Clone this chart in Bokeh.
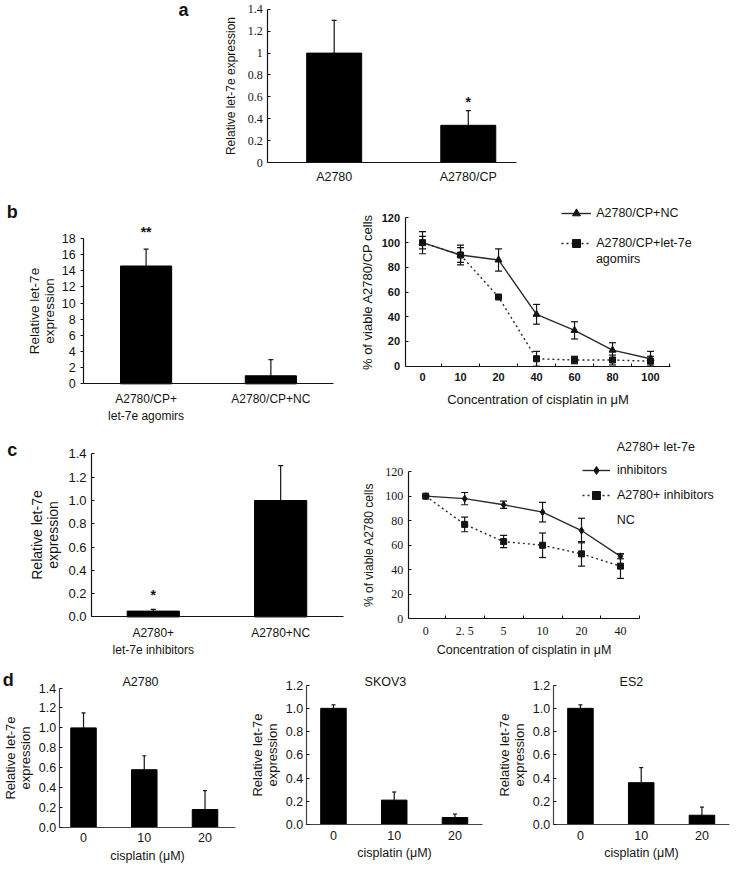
from bokeh.plotting import figure
from bokeh.layouts import row, column
from bokeh.models import (ColumnDataSource, Range1d, FixedTicker, Whisker, TeeHead,
                          Legend, LegendItem, Label)
from bokeh.core.properties import value
from bokeh.embed import file_html
from bokeh.resources import INLINE

# ---------------- data ----------------
a_groups = ["A2780", "A2780/CP"]
a_values = [1.0, 0.34]
a_errors = [0.30, 0.135]
a_marks = ["", "*"]
a_yticks = [0, 0.2, 0.4, 0.6, 0.8, 1.0, 1.2, 1.4]
a_ytick_labels = ["0", "0.2", "0.4", "0.6", "0.8", "1", "1.2", "1.4"]

b_groups = ["A2780/CP+\nlet-7e agomirs", "A2780/CP+NC"]
b_values = [14.6, 1.0]
b_errors = [2.1, 2.0]
b_marks = ["**", ""]
b_yticks = [0, 2, 4, 6, 8, 10, 12, 14, 16, 18]

b_conc = ["0", "10", "20", "40", "60", "80", "100"]
b_nc = [100, 90, 86, 42, 29, 13, 6]
b_nc_err = [9, 8, 9, 8, 7, 6, 6]
b_ago = [100, 90, 56, 6, 5, 5, 4]
b_ago_err = [5, 6, 1, 6, 3, 4, 4]
b_legend = ["A2780/CP+NC", "A2780/CP+let-7e", "agomirs"]

pct_yticks = [0, 20, 40, 60, 80, 100, 120]

c_groups = ["A2780+\nlet-7e inhibitors", "A2780+NC"]
c_values = [0.05, 1.0]
c_errors = [0.015, 0.30]
c_marks = ["*", ""]
rel_yticks = [0.0, 0.2, 0.4, 0.6, 0.8, 1.0, 1.2, 1.4]
rel_ytick_labels = ["0.0", "0.2", "0.4", "0.6", "0.8", "1.0", "1.2", "1.4"]

c_conc = ["0", "2. 5", "5", "10", "20", "40"]
c_inh = [100, 98, 93, 87, 72, 51]
c_inh_err = [0, 5, 3, 8, 10, 2]
c_nc = [100, 77, 63, 60, 53, 43]
c_nc_err = [0, 6, 5, 10, 10, 10]
c_legend_head = "A2780+ let-7e"
c_legend = ["inhibitors", "A2780+ inhibitors"]
c_legend_tail = "NC"

d_doses = ["0", "10", "20"]
d_titles = ["A2780", "SKOV3", "ES2"]
d_a2780 = [1.0, 0.58, 0.18]
d_a2780_err = [0.15, 0.14, 0.19]
d_skov3 = [1.0, 0.21, 0.06]
d_skov3_err = [0.03, 0.07, 0.03]
d_es2 = [1.0, 0.36, 0.08]
d_es2_err = [0.03, 0.13, 0.07]

# ---------------- helpers ----------------
SANS = "Liberation Sans"
SERIF = "Liberation Serif"
INK = "#141414"
SX = 736 / 752
SY = 864 / 880


def make_panel(fig_box, frame_box, xr, yr):
    """Figure whose drawing area covers the whole canvas; the axes are pinned
    (fixed_location) so that the plot region sits where the reference has it."""
    rx0, ry0, rx1, ry1 = fig_box
    fx0, fy0, fx1, fy1 = frame_box
    W = round(rx1 * SX) - round(rx0 * SX)
    H = round(ry1 * SY) - round(ry0 * SY)
    L = (fx0 - rx0) * SX
    R = (fx1 - rx0) * SX
    T = (fy0 - ry0) * SY
    B = (fy1 - ry0) * SY
    kx = (xr[1] - xr[0]) / (R - L)
    ky = (yr[1] - yr[0]) / (B - T)
    p = figure(width=W, height=H,
               x_range=Range1d(xr[0] - L * kx, xr[1] + (W - R) * kx),
               y_range=Range1d(yr[0] - (H - B) * ky, yr[1] + T * ky),
               min_border_left=0, min_border_right=0,
               min_border_top=0, min_border_bottom=0,
               toolbar_location=None, output_backend="svg")
    p.outline_line_color = None
    p.xgrid.visible = False
    p.ygrid.visible = False
    p.background_fill_color = "white"
    p.border_fill_color = "white"
    p.xaxis.fixed_location = yr[0]
    p.yaxis.fixed_location = xr[0]
    p.xaxis.bounds = (xr[0], xr[1])
    p.yaxis.bounds = (yr[0], yr[1])

    def scr(rx, ry):
        return (rx - rx0) * SX, H - (ry - ry0) * SY
    return p, scr


def style_axes(p, tick_font=SANS, tick_size="12px", tick_style="normal",
               label_size="13px"):
    for ax in list(p.xaxis) + list(p.yaxis):
        ax.axis_line_color = INK
        ax.axis_line_width = 1.2
        ax.major_tick_line_color = INK
        ax.minor_tick_line_color = INK
        ax.major_tick_in = 0
        ax.major_tick_out = 0
        ax.minor_tick_in = 0
        ax.minor_tick_out = 0
        ax.major_label_text_font = tick_font
        ax.major_label_text_font_size = tick_size
        ax.major_label_text_font_style = tick_style
        ax.major_label_text_color = INK
        ax.axis_label_text_font = SANS
        ax.axis_label_text_font_style = "normal"
        ax.axis_label_text_font_size = label_size
        ax.axis_label_text_color = INK
        ax.axis_label_text_line_height = 1.0
    for ax in p.yaxis:
        ax.major_tick_in = 3
        ax.major_tick_line_width = 1


def set_ticks(axis, ticks, labels, minor=None):
    axis.ticker = FixedTicker(ticks=list(ticks), minor_ticks=list(minor or []))
    axis.major_label_overrides = {t: l for t, l in zip(ticks, labels)}


def add_bars(p, values, errors, width, marks=None, mark_size="14px", mark_offset=-10,
             head=5):
    xs = list(range(len(values)))
    src = ColumnDataSource(dict(x=xs, top=values,
                                upper=[v + e for v, e in zip(values, errors)],
                                mark=marks if marks else [""] * len(values)))
    p.vbar(x="x", top="top", width=width, source=src,
           fill_color="black", line_color="black")
    p.add_layout(Whisker(source=src, base="x", lower="top", upper="upper",
                         line_color=INK, line_width=1.2, lower_head=None,
                         upper_head=TeeHead(size=head, line_color=INK, line_width=1.2)))
    if marks:
        p.text(x="x", y="upper", text="mark", source=src, text_align="center",
               text_baseline="middle", y_offset=mark_offset, text_color=INK,
               text_font=value(SANS), text_font_size=mark_size, text_font_style="bold")


def add_series(p, values, errors, dash, marker, size):
    xs = list(range(len(values)))
    src = ColumnDataSource(dict(x=xs, y=values,
                                lo=[v - e for v, e in zip(values, errors)],
                                hi=[v + e for v, e in zip(values, errors)]))
    p.add_layout(Whisker(source=src, base="x", lower="lo", upper="hi",
                         line_color=INK, line_width=1.2,
                         upper_head=TeeHead(size=7, line_color=INK, line_width=1.2),
                         lower_head=TeeHead(size=7, line_color=INK, line_width=1.2)))
    l = p.line("x", "y", source=src, line_color="#2a2a2a", line_width=1.4, line_dash=dash)
    s = p.scatter("x", "y", source=src, marker=marker, size=size,
                  fill_color=INK, line_color=INK)
    return l, s


def add_text(p, scr, rx, ry, text, size, style="normal", align="center", font=SANS):
    x, y = scr(rx, ry)
    p.add_layout(Label(x=x, y=y, x_units="screen", y_units="screen", text=text,
                       text_font=font, text_font_size=size, text_font_style=style,
                       text_align=align, text_baseline="middle", text_color=INK))


def make_legend(p, scr, rx, ry, items, glyph_width, standoff, spacing):
    x, y = scr(rx, ry)
    leg = Legend(items=items, location=(x, y), orientation="vertical",
                 border_line_color=None, background_fill_alpha=0,
                 padding=0, margin=0, spacing=spacing, glyph_width=glyph_width,
                 glyph_height=20, label_height=20, label_standoff=standoff,
                 label_text_font=SANS, label_text_font_size="12.5px",
                 label_text_color=INK)
    p.add_layout(leg)


# ---------------- panel a ----------------
pa, sa = make_panel((0, 0, 752, 190), (273, 9, 527, 165), (-0.496, 1.358), (0, 1.4))
add_bars(pa, a_values, a_errors, 0.41, a_marks, "14px", -9)
style_axes(pa, tick_font=SERIF, tick_size="12px")
set_ticks(pa.yaxis[0], a_yticks, a_ytick_labels)
set_ticks(pa.xaxis[0], list(range(len(a_groups))), a_groups)
pa.xaxis.major_label_text_font = SANS
pa.xaxis.major_label_text_font_size = "12.5px"
pa.xaxis.major_label_standoff = 7
pa.yaxis.axis_label = "Relative let-7e expression"
pa.yaxis.axis_label_text_font_size = "12px"
pa.yaxis.axis_label_standoff = 7
add_text(pa, sa, 187, 10, "a", "18px", "bold")

# ---------------- panel b (left) ----------------
pb1, sb1 = make_panel((0, 190, 345, 432), (85, 242, 340, 390), (-0.5, 1.5), (0, 18))
add_bars(pb1, b_values, b_errors, 0.41, b_marks, "14px", -17)
style_axes(pb1, tick_size="12.5px")
set_ticks(pb1.yaxis[0], b_yticks, [str(t) for t in b_yticks])
pb1.yaxis.major_tick_in = 0
pb1.yaxis.major_tick_out = 3
set_ticks(pb1.xaxis[0], list(range(len(b_groups))), b_groups)
pb1.xaxis.major_label_text_font_size = "12px"
pb1.xaxis.major_label_standoff = 8
pb1.yaxis.axis_label = "Relative let-7e\nexpression"
pb1.yaxis.axis_label_text_font_size = "13.5px"
pb1.yaxis.axis_label_standoff = 2
add_text(pb1, sb1, 12, 215, "b", "18px", "bold")

# ---------------- panel b (right) ----------------
pb2, sb2 = make_panel((345, 190, 752, 432), (413, 221, 684, 372), (-0.46, 6.52), (0, 120))
lb1, mb1 = add_series(pb2, b_nc, b_nc_err, "solid", "triangle", 7)
lb2, mb2 = add_series(pb2, b_ago, b_ago_err, "2 3", "square", 6)
style_axes(pb2, tick_size="11px", tick_style="bold")
set_ticks(pb2.yaxis[0], pct_yticks, [str(t) for t in pct_yticks])
n_b = len(b_conc)
set_ticks(pb2.xaxis[0], list(range(n_b)), b_conc, [i + 0.5 for i in range(n_b)])
pb2.xaxis.minor_tick_in = 3
pb2.xaxis.major_label_standoff = 7
pb2.xaxis.axis_label = "Concentration of cisplatin in \u03bcM"
pb2.xaxis.axis_label_standoff = 7
pb2.xaxis.axis_label_text_font_size = "13px"
pb2.yaxis.axis_label = "% of viable A2780/CP cells"
pb2.yaxis.axis_label_text_font_size = "13px"
pb2.yaxis.axis_label_standoff = 4
make_legend(pb2, sb2, 573, 257,
            [LegendItem(label=b_legend[0], renderers=[lb1, mb1]),
             LegendItem(label=b_legend[1], renderers=[lb2, mb2])], 30, 5, 10)
add_text(pb2, sb2, 608, 263, b_legend[2], "12.5px", align="left")

# ---------------- panel c (left) ----------------
pc1, sc1 = make_panel((0, 432, 355, 675), (93, 462, 350, 628), (-0.485, 1.49), (0, 1.4))
add_bars(pc1, c_values, c_errors, 0.41, c_marks, "14px", -14)
style_axes(pc1, tick_size="13px")
set_ticks(pc1.yaxis[0], rel_yticks, rel_ytick_labels)
set_ticks(pc1.xaxis[0], list(range(len(c_groups))), c_groups)
pc1.xaxis.major_label_text_font_size = "12px"
pc1.xaxis.major_label_standoff = 9
pc1.yaxis.axis_label = "Relative let-7e\nexpression"
pc1.yaxis.axis_label_text_font_size = "14px"
pc1.yaxis.axis_label_standoff = 4
add_text(pc1, sc1, 12, 458, "c", "18px", "bold")

# ---------------- panel c (right) ----------------
pc2, sc2 = make_panel((355, 432, 752, 675), (417, 480, 653, 630), (-0.45, 5.48), (0, 120))
lc1, mc1 = add_series(pc2, c_inh, c_inh_err, "solid", "diamond", 7)
lc2, mc2 = add_series(pc2, c_nc, c_nc_err, "2 3", "square", 6)
style_axes(pc2, tick_font=SERIF, tick_size="12px")
set_ticks(pc2.yaxis[0], pct_yticks, [str(t) for t in pct_yticks])
n_c = len(c_conc)
set_ticks(pc2.xaxis[0], list(range(n_c)), c_conc, [i + 0.5 for i in range(n_c)])
pc2.xaxis.minor_tick_in = 3
pc2.xaxis.major_label_standoff = 5
pc2.xaxis.axis_label = "Concentration of cisplatin in \u03bcM"
pc2.xaxis.axis_label_standoff = 2
pc2.xaxis.axis_label_text_font_size = "12.5px"
pc2.yaxis.axis_label = "% of viable A2780 cells"
pc2.yaxis.axis_label_text_font_size = "12px"
pc2.yaxis.axis_label_standoff = 7
make_legend(pc2, sc2, 595, 514,
            [LegendItem(label=c_legend[0], renderers=[lc1, mc1]),
             LegendItem(label=c_legend[1], renderers=[lc2, mc2])], 28, 7, 5)
add_text(pc2, sc2, 630, 455, c_legend_head, "12.5px", align="left")
add_text(pc2, sc2, 630, 529, c_legend_tail, "12.5px", align="left")

# ---------------- panel d ----------------
d_specs = [
    ((0, 675, 248, 880), (60, 700, 240, 842), (-0.4, 2.5), 1.4, d_a2780, d_a2780_err, 143),
    ((248, 675, 500, 880), (312, 697, 492, 839), (-0.45, 2.45), 1.2, d_skov3, d_skov3_err, 393),
    ((500, 675, 752, 880), (565, 697, 745, 839), (-0.45, 2.45), 1.2, d_es2, d_es2_err, 645),
]
d_figs = []
for k, (fb, frb, xr, ymax, vals, errs, tx) in enumerate(d_specs):
    pd_, sd_ = make_panel(fb, frb, xr, (0, ymax))
    add_bars(pd_, vals, errs, 0.42, head=4)
    style_axes(pd_, tick_size="12.5px", label_size="13px")
    ticks = [t for t in rel_yticks if t <= ymax + 1e-9]
    set_ticks(pd_.yaxis[0], ticks, rel_ytick_labels[:len(ticks)])
    set_ticks(pd_.xaxis[0], list(range(len(d_doses))), d_doses)
    pd_.xaxis.major_label_standoff = 6
    pd_.xaxis.axis_label = "cisplatin (\u03bcM)"
    pd_.xaxis.axis_label_text_font_size = "12.5px"
    pd_.xaxis.axis_label_standoff = 3
    pd_.yaxis.axis_label = "Relative let-7e\nexpression"
    pd_.yaxis.axis_label_standoff = 3
    pd_.yaxis.major_label_standoff = 3
    for ax in list(pd_.xaxis) + list(pd_.yaxis):
        ax.axis_line_color = "#444444"
    add_text(pd_, sd_, tx, 694, d_titles[k], "12.5px")
    if k == 0:
        add_text(pd_, sd_, 8, 692, "d", "18px", "bold")
    d_figs.append(pd_)

layout = column(
    pa,
    row(pb1, pb2),
    row(pc1, pc2),
    row(*d_figs),
)

open("out.html", "w").write(file_html(layout, INLINE))
